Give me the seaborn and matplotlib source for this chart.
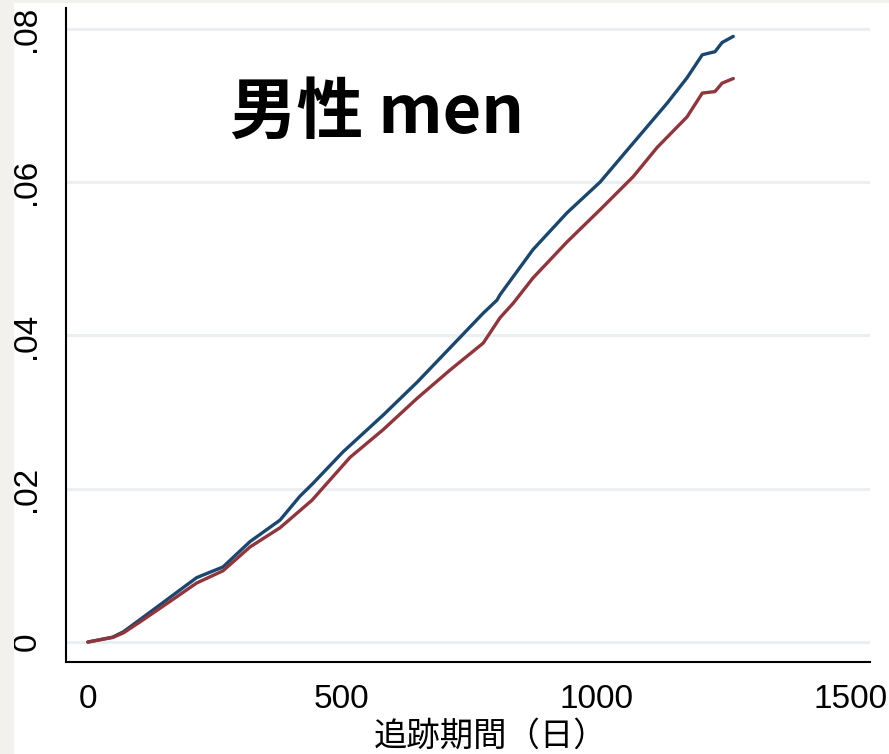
import matplotlib
matplotlib.use("Agg")
import matplotlib.pyplot as plt
from matplotlib.patches import Rectangle
import numpy as np
import pandas as pd
import seaborn as sns

# Cumulative incidence by follow-up day, two groups (men)
days_a = [0, 49, 70, 102, 155, 214, 266, 319, 378, 417, 443, 502, 581, 648, 713,
          778, 805, 811, 876, 943, 1008, 1063, 1140, 1179, 1209, 1234, 1248, 1270]
risk_a = [0.0, 0.00065, 0.00135, 0.0029, 0.0055, 0.0084, 0.0098, 0.0131, 0.0159,
          0.0190, 0.0207, 0.0248, 0.0296, 0.0339, 0.0384, 0.0429, 0.0446, 0.0453,
          0.0512, 0.0560, 0.0600, 0.0643, 0.0703, 0.0736, 0.0766, 0.0770, 0.0782,
          0.0790]

days_b = [0, 49, 70, 102, 155, 214, 266, 319, 378, 441, 516, 581, 648, 713, 778,
          811, 837, 876, 943, 1008, 1073, 1120, 1179, 1209, 1234, 1248, 1270]
risk_b = [0.0, 0.0006, 0.0012, 0.0026, 0.0050, 0.0077, 0.0093, 0.0124, 0.0149,
          0.0185, 0.0241, 0.0277, 0.0318, 0.0355, 0.0390, 0.0423, 0.0442, 0.0475,
          0.0522, 0.0564, 0.0607, 0.0645, 0.0685, 0.0716, 0.0718, 0.0729, 0.0735]

x_ticks = [0, 500, 1000, 1500]
y_ticks = [0.0, 0.02, 0.04, 0.06, 0.08]
y_tick_labels = ["0", ".02", ".04", ".06", ".08"]

title_text = "男性 men"
x_label = "追跡期間（日）"

df = pd.concat([
    pd.DataFrame({"day": days_a, "risk": risk_a, "group": "a"}),
    pd.DataFrame({"day": days_b, "risk": risk_b, "group": "b"}),
], ignore_index=True)

sns.set_theme(style="white")
plt.rcParams["font.family"] = ["Liberation Sans", "Noto Sans CJK JP", "DejaVu Sans"]

fig = plt.figure(figsize=(8.89, 7.54), dpi=100, facecolor="white")
# pale margin strips around the panel
fig.patches.append(Rectangle((0, 0), 14 / 889, 1, transform=fig.transFigure,
                             facecolor="#f2f1ee", edgecolor="none", zorder=0))
fig.patches.append(Rectangle((0, 1 - 3 / 754), 1, 3 / 754, transform=fig.transFigure,
                             facecolor="#f2f1ee", edgecolor="none", zorder=0))

ax = fig.add_axes([66 / 889, 92 / 754, 804 / 889, 654 / 754])
ax.set_facecolor("white")

sns.lineplot(data=df, x="day", y="risk", hue="group",
             palette={"a": "#1a476f", "b": "#90353b"},
             linewidth=2.4, legend=False, ax=ax, estimator=None, sort=False)

ax.set_xlim(-43, 1539)
ax.set_ylim(-0.0026, 0.0827)
ax.set_xticks(x_ticks)
ax.set_xticklabels([str(t) for t in x_ticks], fontsize=24,
                   family=["Liberation Sans", "DejaVu Sans"])
ax.set_yticks(y_ticks)
ax.set_yticklabels(y_tick_labels, fontsize=24, rotation=90, va="center",
                   family=["Liberation Sans", "DejaVu Sans"])

ax.yaxis.grid(True, color="#eaf0f2", linewidth=2.2)
ax.xaxis.grid(False)
ax.set_axisbelow(True)

for side in ["top", "right"]:
    ax.spines[side].set_visible(False)
for side in ["left", "bottom"]:
    ax.spines[side].set_color("black")
    ax.spines[side].set_linewidth(1.5)

ax.tick_params(axis="both", which="major", direction="out", length=9, width=1.5,
               color="black", labelcolor="black")
ax.tick_params(axis="y", pad=8)
ax.tick_params(axis="x", pad=7)

ax.set_xlabel(x_label, fontsize=24, family=["Noto Sans CJK JP", "DejaVu Sans"],
              color="black")
ax.xaxis.set_label_coords(0.528, -0.113)
ax.xaxis.label.set_va("center")
ax.set_ylabel("")

ax.text(280, 0.0690, title_text, fontsize=48, fontweight="bold",
        family=["Noto Sans CJK JP", "DejaVu Sans"], va="center", ha="left",
        color="black")

fig.savefig("out.png", dpi=100, facecolor=fig.get_facecolor())
